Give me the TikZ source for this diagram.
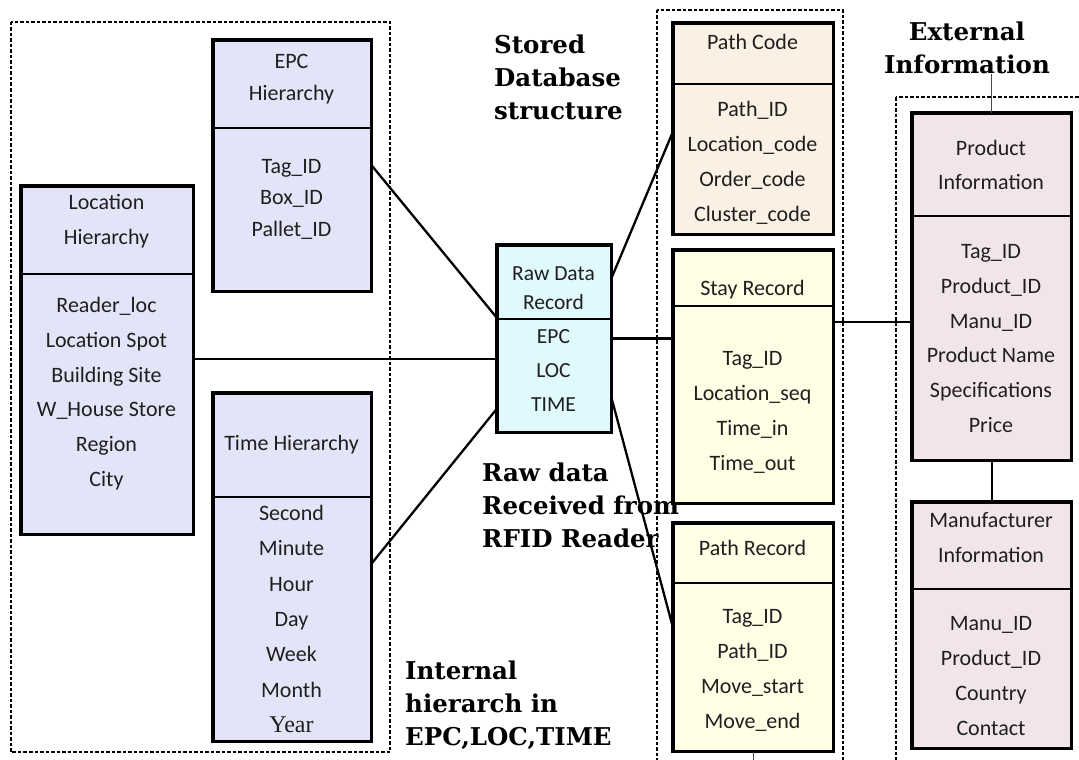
\documentclass[tikz,border=0pt]{standalone}
\usepackage{fontspec}
\setmainfont{Carlito}
\newfontfamily\lblfont{DejaVu Serif}
\newfontfamily\yearfont{Liberation Serif}
\usetikzlibrary{calc}
\definecolor{lav}{RGB}{228,228,248}
\definecolor{rawc}{RGB}{224,249,253}
\definecolor{peach}{RGB}{250,240,228}
\definecolor{yel}{RGB}{255,255,230}
\definecolor{pink}{RGB}{241,229,231}
\tikzset{
  part/.style={draw, line width=1.6pt, inner sep=0pt, anchor=north west, rectangle},
  frame/.style={line width=3.5pt},
  conn/.style={line width=2.3pt},
  thinline/.style={line width=0.7pt, black!70},
  zone/.style={line width=1.8pt, dash pattern=on 3.5pt off 2pt},
  boxtxt/.style={align=center, font=\fontsize{22}{34.7}\selectfont, text=black!88, inner sep=0pt},
  lbl/.style={align=left, font=\lblfont\bfseries\fontsize{24.5}{33}\selectfont, inner sep=0pt, anchor=west},
}
\newcommand\mkbox[7]{%
  \node[part, fill=#7, minimum width={#4-#2}, minimum height={#5-#3}] (#1H) at (#2,#3) {};
  \node[part, fill=#7, minimum width={#4-#2}, minimum height={#6-#5}] (#1B) at (#2,#5) {};
  \draw[frame] (#1H.north west) rectangle (#1B.south east);
}
\begin{document}
\begin{tikzpicture}[x=1pt,y=-1pt]
\useasboundingbox (0,0) rectangle (1079,760);
\clip (0,0) rectangle (1079,760);
\fill[white] (0,0) rectangle (1079,760);

% zones
\draw[zone] (11,22) rectangle (390,752);
\draw[zone] (657,10) rectangle (843,790);
\draw[zone] (896,97) rectangle (1100,790);

% boxes
\mkbox{epc}{213}{40}{370}{127}{290}{lav}
\mkbox{loc}{21}{186}{192}{273}{533}{lav}
\mkbox{tim}{213}{393}{370}{496}{740}{lav}
\mkbox{raw}{497}{245}{610}{318}{431}{rawc}
\mkbox{pc}{673}{23}{832}{83}{233}{peach}
\mkbox{st}{673}{250}{832}{305}{502}{yel}
\mkbox{pr}{673}{523}{832}{582}{750}{yel}
\mkbox{pi}{912}{113}{1070}{215}{459}{pink}
\mkbox{mi}{912}{502}{1070}{588}{747}{pink}

% box texts
\node[boxtxt, font=\fontsize{22}{32}\selectfont] (epcHt) at (291.5,79) {EPC\\Hierarchy};
\node[boxtxt, font=\fontsize{22}{31.5}\selectfont] (epcBt) at (291.5,199) {Tag\_ID\\Box\_ID\\Pallet\_ID};
\node[boxtxt, font=\fontsize{22}{35}\selectfont] (locHt) at (106.5,221) {Location\\Hierarchy};
\node[boxtxt] (locBt) at (106.5,393.5) {Reader\_loc\\Location Spot\\Building Site\\W\_House Store\\Region\\City};
\node[boxtxt] (timHt) at (291.5,445) {Time Hierarchy};
\node[boxtxt, font=\fontsize{22}{35.3}\selectfont] (timBt) at (291.5,619) {Second\\Minute\\Hour\\Day\\Week\\Month\\{\yearfont\fontsize{24}{35.3}\selectfont Year}};
\node[boxtxt, font=\fontsize{21.5}{29}\selectfont] (rawHt) at (553.5,288) {Raw Data\\Record};
\node[boxtxt, font=\fontsize{21.5}{34}\selectfont] (rawBt) at (553.5,371) {EPC\\LOC\\TIME};
\node[boxtxt] (pcHt) at (752.5,42) {Path Code};
\node[boxtxt, font=\fontsize{22}{35}\selectfont] (pcBt) at (752.5,162.5) {Path\_ID\\Location\_code\\Order\_code\\Cluster\_code};
\node[boxtxt] (stHt) at (752.5,290) {Stay Record};
\node[boxtxt, font=\fontsize{22}{35}\selectfont] (stBt) at (752.5,412.5) {Tag\_ID\\Location\_seq\\Time\_in\\Time\_out};
\node[boxtxt] (prHt) at (752.5,548) {Path Record};
\node[boxtxt, font=\fontsize{22}{35}\selectfont] (prBt) at (752.5,670) {Tag\_ID\\Path\_ID\\Move\_start\\Move\_end};
\node[boxtxt, font=\fontsize{22}{34}\selectfont] (piHt) at (991,165) {Product\\Information};
\node[boxtxt] (piBt) at (991,338.5) {Tag\_ID\\Product\_ID\\Manu\_ID\\Product Name\\Specifications\\Price};
\node[boxtxt, font=\fontsize{22}{35}\selectfont] (miHt) at (991,537.5) {Manufacturer\\Information};
\node[boxtxt, font=\fontsize{22}{35}\selectfont] (miBt) at (991,676.5) {Manu\_ID\\Product\_ID\\Country\\Contact};

% connectors
\draw[conn] ($(epcB.north east)!0.233!(epcB.south east)$) -- (rawB.north west);
\coordinate (l1) at ($(locB.north east)!0.33!(locB.south east)$);
\draw[conn] (l1) -- (rawB.west |- l1);
\draw[conn] ($(timB.north east)!0.275!(timB.south east)$) -- ($(rawB.north west)!0.79!(rawB.south west)$);
\draw[conn] ($(rawH.north east)!0.44!(rawH.south east)$) -- ($(pcB.north west)!0.32!(pcB.south west)$);
\coordinate (r1) at ($(rawB.north east)!0.18!(rawB.south east)$);
\draw[conn] (r1) -- (stB.west |- r1);
\draw[conn] ($(rawB.north east)!0.70!(rawB.south east)$) -- ($(prB.north west)!0.27!(prB.south west)$);
\coordinate (s1) at ($(stB.north east)!0.086!(stB.south east)$);
\draw[conn] (s1) -- (piB.west |- s1);
\draw[conn] (piB.south) -- (miH.north);

% labels
\node[lbl] (stored) at (494,77) {Stored\\Database\\structure};
\node[lbl, anchor=center, align=center] (ext) at (967,48) {External\\Information};
\node[lbl] (rawlbl) at (482,505) {Raw data\\Received from\\RFID Reader};
\node[lbl] (intl) at (405,705) {Internal\\hierarch in\\EPC,LOC,TIME};

\draw[thinline] (piH.north) -- (piH.north |- ext.south);
\coordinate (prtick) at ($(prB.south)+(0,12)$);
\draw[thinline] (prB.south) -- (prtick);
\end{tikzpicture}
\end{document}
